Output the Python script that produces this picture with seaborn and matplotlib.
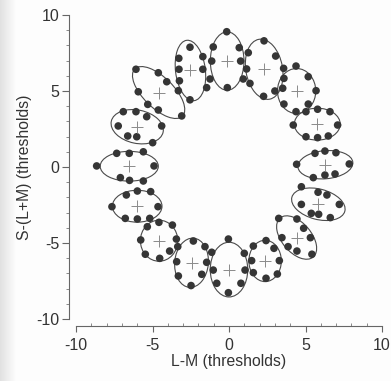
import numpy as np
import pandas as pd
import matplotlib
matplotlib.use("Agg")
import matplotlib.pyplot as plt
from matplotlib.patches import Ellipse
from matplotlib.ticker import MultipleLocator
import seaborn as sns

# Centre of each threshold ellipse, going clockwise from the top
center_x = [-0.12, 2.30, 4.42, 5.77, 6.30, 5.84, 4.42, 2.36,
            0.00, -2.45, -4.57, -6.00, -6.52, -6.00, -4.60, -2.52]
center_y = [6.97, 6.43, 5.00, 2.82, 0.15, -2.45, -4.64, -6.18,
            -6.75, -6.30, -4.85, -2.58, 0.05, 2.65, 4.90, 6.35]

# Fitted ellipses: full axis lengths (thresholds) and orientation (deg)
ell_major = [3.84, 4.00, 2.96, 3.00, 3.60, 3.58, 3.36, 2.72,
             3.60, 3.25, 2.70, 3.24, 3.80, 3.46, 4.40, 4.00]
ell_minor = [2.20, 2.40, 2.50, 2.10, 1.85, 2.00, 1.93, 2.12,
             2.45, 2.20, 2.44, 2.10, 1.96, 2.19, 2.00, 1.95]
ell_angle = [90, 100, 90, 0, 5, -15, -50, 90,
             90, 85, 90, 0, 0, -12, -45, 97]

# Measured threshold points belonging to each ellipse
points_x = [
    [-0.15, -1.03, 0.67, -1.13, 0.76, -1.24, 0.93, -0.11],
    [2.29, 3.05, 1.26, 1.15, 1.37, 2.26, 3.00, 3.57],
    [4.38, 5.18, 5.69, 5.18, 4.38, 3.59, 3.51, 3.59],
    [5.03, 5.79, 6.60, 7.10, 6.49, 5.79, 5.03, 4.20],
    [5.62, 6.27, 6.99, 7.86, 6.93, 6.27, 5.51, 4.42],
    [4.73, 5.82, 6.40, 7.21, 6.62, 5.86, 5.38, 4.73],
    [3.25, 4.44, 4.88, 5.32, 5.42, 4.44, 3.86, 3.46],
    [2.42, 1.59, 1.48, 1.59, 2.42, 3.16, 3.29, 2.94],
    [-0.04, 1.00, 1.05, 0.78, -0.04, -0.80, -1.03, -1.13],
    [-2.33, -1.57, -1.46, -1.78, -2.48, -3.31, -3.42, -3.35],
    [-5.34, -4.58, -3.70, -3.44, -3.88, -4.53, -5.47, -5.77],
    [-7.65, -6.71, -5.99, -5.12, -4.64, -5.18, -5.99, -6.78],
    [-8.65, -7.34, -6.52, -5.60, -4.90, -7.10, -6.50, -5.60],
    [-6.91, -6.08, -5.38, -4.40, -4.99, -6.03, -6.62, -7.24],
    [-6.08, -4.62, -4.07, -3.31, -3.09, -4.62, -5.31, -5.93],
    [-2.55, -3.28, -3.27, -3.24, -2.55, -1.71, -1.71, -1.46],
]
points_y = [
    [8.90, 7.90, 7.85, 6.97, 6.97, 5.79, 5.79, 5.22],
    [8.30, 7.30, 7.52, 6.45, 5.50, 4.65, 5.00, 6.49],
    [6.64, 5.94, 5.02, 4.14, 3.64, 4.14, 5.18, 5.83],
    [3.64, 3.80, 3.64, 2.76, 2.04, 1.93, 1.99, 2.76],
    [0.90, 1.05, 0.94, 0.20, -0.46, -0.53, -0.70, 0.18],
    [-1.30, -1.66, -1.84, -2.46, -3.33, -3.11, -3.05, -2.46],
    [-3.38, -3.42, -4.03, -4.65, -5.74, -5.53, -5.24, -4.65],
    [-4.84, -5.20, -6.16, -6.95, -7.32, -7.04, -6.16, -5.35],
    [-4.74, -5.68, -6.78, -7.65, -8.27, -7.65, -6.78, -5.61],
    [-4.87, -5.24, -6.27, -7.06, -7.80, -7.17, -6.23, -5.24],
    [-3.93, -3.64, -3.82, -4.74, -5.53, -6.01, -5.74, -4.80],
    [-2.61, -1.84, -1.58, -1.62, -2.61, -3.38, -3.42, -3.38],
    [0.07, 0.90, 0.90, 1.00, 0.07, -0.70, -0.88, -0.92],
    [3.64, 3.64, 3.31, 2.70, 1.60, 1.99, 2.04, 2.70],
    [6.43, 6.20, 5.61, 5.02, 3.36, 3.75, 4.12, 4.95],
    [7.88, 7.15, 6.43, 5.67, 4.42, 7.26, 6.43, 5.22],
]

x_ticks = [-10, -5, 0, 5, 10]
y_ticks = [-10, -5, 0, 5, 10]
x_label = "L-M (thresholds)"
y_label = "S-(L+M) (thresholds)"

points = pd.DataFrame({
    "lm": [v for grp in points_x for v in grp],
    "s": [v for grp in points_y for v in grp],
    "group": [i for i, grp in enumerate(points_x) for _ in grp],
})
centers = pd.DataFrame({"lm": center_x, "s": center_y})

sns.set_style("ticks")
plt.rcParams["font.family"] = ["Liberation Sans", "DejaVu Sans"]

ink = "#333333"
fig = plt.figure(figsize=(3.91, 3.81), dpi=100)
fig.patch.set_facecolor("#fdfdfd")

# faint shading along the left margin of the page
shade = fig.add_axes([0, 0, 0.04, 1])
shade.imshow(np.linspace(0.88, 0.99, 64)[None, :], cmap="gray", vmin=0, vmax=1,
             aspect="auto", extent=[0, 1, 0, 1])
shade.set_axis_off()

ax = fig.add_axes([76 / 391, 62 / 381, 306 / 391, 304 / 381])
ax.set_facecolor("none")

for cx, cy, w, h, a in zip(center_x, center_y, ell_major, ell_minor, ell_angle):
    ax.add_patch(Ellipse((cx, cy), w, h, angle=a, fill=False,
                         edgecolor="#4a4a4a", linewidth=0.8, zorder=2))

sns.scatterplot(data=points, x="lm", y="s", ax=ax, color="#353535",
                s=30, edgecolor="none", linewidth=0, legend=False, zorder=3)
sns.scatterplot(data=centers, x="lm", y="s", ax=ax, marker="+", color="#8a8a8a",
                s=65, linewidth=0.7, legend=False, zorder=3)

ax.set_xlim(-10, 10)
ax.set_ylim(-10, 10)
ax.set_xticks(x_ticks)
ax.set_yticks(y_ticks)
ax.set_xticklabels([str(t) for t in x_ticks])
ax.set_yticklabels([str(t) for t in y_ticks])
ax.xaxis.set_minor_locator(MultipleLocator(1))
ax.yaxis.set_minor_locator(MultipleLocator(1))

for side in ("top", "right"):
    ax.spines[side].set_visible(False)
for side in ("left", "bottom"):
    ax.spines[side].set_position(("outward", 5))
    ax.spines[side].set_color("#666666")
    ax.spines[side].set_linewidth(0.8)
ax.spines["left"].set_bounds(-10, 10)
ax.spines["bottom"].set_bounds(-10, 10)

ax.tick_params(axis="y", which="major", direction="out", length=5, width=0.8,
               color="#666666", labelsize=11.5, labelcolor=ink, pad=2)
ax.tick_params(axis="y", which="minor", direction="out", length=2.5, width=0.6,
               color="#777777")
ax.tick_params(axis="x", which="major", direction="out", length=4, width=0.8,
               color="#666666", labelsize=11.5, labelcolor=ink, pad=4.5)
ax.tick_params(axis="x", which="minor", direction="in", length=2, width=0.6,
               color="#777777")

ax.set_xlabel(x_label, fontsize=11.3, color=ink, labelpad=1)
ax.set_ylabel(y_label, fontsize=11.3, color=ink, labelpad=3)

fig.savefig("out.png", dpi=100, facecolor=fig.get_facecolor())
